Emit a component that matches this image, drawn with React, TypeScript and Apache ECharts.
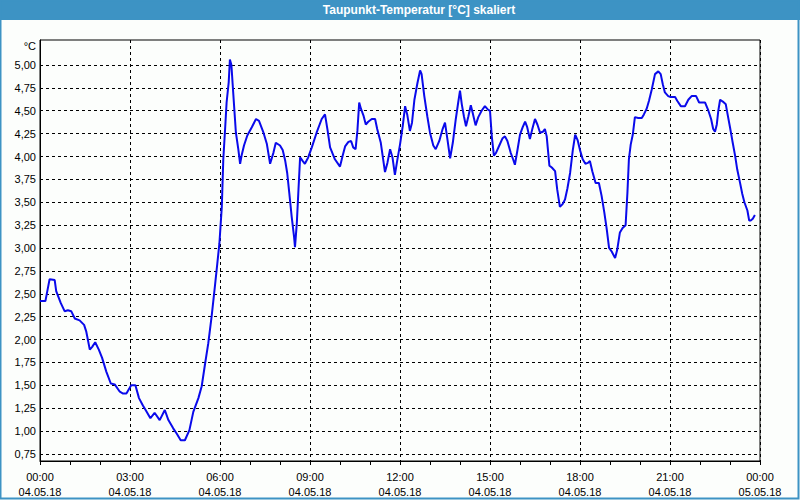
import React, { useEffect, useRef } from "react";
import * as echarts from "echarts";

const TITLE = "Taupunkt-Temperatur [°C] skaliert";
const UNIT = "°C";

// time of day in hours (04.05.18 00:00 = 0)
const hours: number[] = [
  0.0, 0.18, 0.32, 0.49, 0.54, 0.69, 0.82, 0.93, 1.04, 1.16, 1.32, 1.47, 1.54, 1.66, 1.74, 1.84, 1.96, 2.07, 2.21, 2.36,
  2.49, 2.66, 2.77, 2.88, 3.04, 3.18, 3.3, 3.43, 3.54, 3.68, 3.82, 3.99, 4.16, 4.28, 4.44, 4.56, 4.69, 4.83, 4.98, 5.11,
  5.28, 5.39, 5.5, 5.61, 5.72, 5.83, 5.91, 5.98, 6.06, 6.11, 6.17, 6.22, 6.29, 6.33, 6.38, 6.44, 6.53, 6.61, 6.67, 6.72,
  6.8, 6.91, 7.06, 7.2, 7.3, 7.44, 7.56, 7.67, 7.78, 7.86, 8.0, 8.09, 8.17, 8.24, 8.31, 8.39, 8.47, 8.5, 8.56, 8.61,
  8.67, 8.76, 8.83, 8.94, 9.06, 9.22, 9.39, 9.5, 9.58, 9.67, 9.83, 10.0, 10.09, 10.17, 10.28, 10.37, 10.44, 10.52, 10.58, 10.64,
  10.7, 10.78, 10.86, 10.94, 11.06, 11.17, 11.24, 11.36, 11.5, 11.58, 11.67, 11.75, 11.83, 11.91, 12.0, 12.09, 12.17, 12.24, 12.33, 12.4,
  12.48, 12.58, 12.67, 12.72, 12.81, 12.91, 13.0, 13.11, 13.19, 13.31, 13.42, 13.5, 13.58, 13.67, 13.76, 13.86, 13.94, 14.0, 14.06, 14.13,
  14.2, 14.28, 14.36, 14.42, 14.52, 14.61, 14.72, 14.83, 14.94, 15.0, 15.06, 15.13, 15.2, 15.31, 15.42, 15.5, 15.58, 15.69, 15.77, 15.83,
  15.91, 16.0, 16.09, 16.17, 16.24, 16.33, 16.41, 16.5, 16.58, 16.67, 16.76, 16.83, 16.89, 16.98, 17.06, 17.17, 17.24, 17.33, 17.42, 17.5,
  17.58, 17.67, 17.76, 17.84, 17.92, 18.0, 18.09, 18.18, 18.26, 18.33, 18.41, 18.52, 18.63, 18.72, 18.81, 18.89, 18.97, 19.06, 19.17, 19.24,
  19.33, 19.42, 19.52, 19.58, 19.63, 19.69, 19.76, 19.83, 19.94, 20.06, 20.13, 20.22, 20.3, 20.39, 20.5, 20.61, 20.69, 20.76, 20.83, 20.94,
  21.02, 21.17, 21.24, 21.36, 21.5, 21.61, 21.72, 21.87, 21.97, 22.06, 22.17, 22.28, 22.37, 22.44, 22.5, 22.56, 22.61, 22.67, 22.76, 22.86,
  22.92, 23.0, 23.08, 23.17, 23.24, 23.33, 23.41, 23.48, 23.58, 23.64, 23.69, 23.76, 23.83,
];

// dew point temperature in °C
const dewPoint: number[] = [
  2.42, 2.42, 2.66, 2.65, 2.53, 2.4, 2.31, 2.32, 2.31, 2.23, 2.21, 2.16, 2.09, 1.89, 1.92, 1.97, 1.89, 1.8, 1.65, 1.52,
  1.51, 1.43, 1.41, 1.41, 1.5, 1.5, 1.36, 1.28, 1.22, 1.14, 1.2, 1.12, 1.23, 1.12, 1.03, 0.97, 0.9, 0.9, 1.01, 1.21,
  1.36, 1.49, 1.73, 1.96, 2.25, 2.58, 2.83, 3.05, 3.45, 3.97, 4.3, 4.59, 4.81, 5.06, 5.0, 4.7, 4.26, 4.08, 3.92, 4.01,
  4.12, 4.23, 4.32, 4.41, 4.39, 4.27, 4.14, 3.92, 4.04, 4.15, 4.12, 4.07, 3.96, 3.82, 3.6, 3.34, 3.12, 3.01, 3.27, 3.6,
  3.99, 3.95, 3.92, 3.99, 4.1, 4.26, 4.41, 4.46, 4.3, 4.1, 3.97, 3.89, 4.01, 4.11, 4.16, 4.17, 4.1, 4.08, 4.28, 4.59,
  4.52, 4.45, 4.35, 4.38, 4.41, 4.41, 4.3, 4.15, 3.83, 3.93, 4.08, 3.99, 3.8, 3.96, 4.13, 4.33, 4.55, 4.46, 4.28, 4.37,
  4.62, 4.8, 4.94, 4.9, 4.66, 4.44, 4.26, 4.12, 4.08, 4.17, 4.3, 4.37, 4.19, 3.98, 4.15, 4.41, 4.59, 4.72, 4.57, 4.44,
  4.33, 4.44, 4.56, 4.48, 4.34, 4.43, 4.5, 4.55, 4.51, 4.5, 4.22, 4.01, 4.04, 4.12, 4.2, 4.22, 4.17, 4.04, 3.97, 3.91,
  4.06, 4.24, 4.32, 4.38, 4.32, 4.19, 4.3, 4.41, 4.35, 4.26, 4.27, 4.3, 4.22, 3.9, 3.88, 3.84, 3.64, 3.45, 3.48, 3.53,
  3.65, 3.82, 4.07, 4.24, 4.18, 4.07, 3.97, 3.92, 3.93, 3.95, 3.84, 3.71, 3.71, 3.57, 3.39, 3.21, 3.0, 2.96, 2.89, 2.98,
  3.17, 3.22, 3.25, 3.6, 3.97, 4.13, 4.24, 4.43, 4.42, 4.42, 4.46, 4.52, 4.61, 4.73, 4.9, 4.93, 4.9, 4.79, 4.7, 4.66,
  4.65, 4.65, 4.61, 4.55, 4.55, 4.62, 4.66, 4.66, 4.59, 4.59, 4.59, 4.5, 4.41, 4.3, 4.27, 4.35, 4.5, 4.62, 4.6, 4.57,
  4.46, 4.32, 4.17, 4.01, 3.86, 3.72, 3.59, 3.5, 3.41, 3.3, 3.3, 3.32, 3.36,
];

const yTicks: number[] = [0.75, 1.0, 1.25, 1.5, 1.75, 2.0, 2.25, 2.5, 2.75, 3.0, 3.25, 3.5, 3.75, 4.0, 4.25, 4.5, 4.75, 5.0];
const xLabelHours: number[] = [0, 3, 6, 9, 12, 15, 18, 21, 24];
const dayLabels: string[] = ["04.05.18", "05.05.18"];

const FONT = "Liberation Sans";
const BLUE_FRAME = "#3d93c4";

export default function App() {
  const ref = useRef<HTMLDivElement>(null);
  useEffect(() => {
    if (!ref.current) return;
    const chart = echarts.init(ref.current, undefined, { renderer: "svg" });
    const pad = (n: number) => (n < 10 ? "0" + n : "" + n);
    const option: any = {
      animation: false,
      backgroundColor: "#fcfefc",
      textStyle: { fontFamily: FONT },
      grid: { left: 40, top: 40, width: 720, height: 421, show: true, borderColor: "#000", borderWidth: 1, backgroundColor: "transparent" },
      xAxis: [
        {
          type: "value",
          min: 0,
          max: 24,
          interval: 3,
          position: "bottom",
          axisLine: { show: true, lineStyle: { color: "#000", width: 1 } },
          axisTick: { show: false },
          axisLabel: {
            color: "#000",
            fontSize: 11,
            fontFamily: FONT,
            margin: 8,
            lineHeight: 15,
            customValues: xLabelHours,
            formatter: (v: number) => {
              const h = Math.round(v);
              return pad(h % 24) + ":00\n" + (h >= 24 ? dayLabels[1] : dayLabels[0]);
            },
          },
          splitLine: { show: true, lineStyle: { color: "#000", type: [3, 3], width: 1 } },
        },
        {
          type: "value",
          min: 0,
          max: 24,
          interval: 1,
          position: "bottom",
          offset: 0,
          axisLine: { show: false },
          axisTick: { show: true, length: 4, lineStyle: { color: "#000" } },
          axisLabel: { show: false },
          splitLine: { show: false },
        },
      ],
      yAxis: {
        type: "value",
        min: 0.673,
        max: 5.273,
        axisLine: { show: true, lineStyle: { color: "#000" } },
        axisTick: { show: false, customValues: yTicks },
        axisLabel: {
          color: "#000",
          fontSize: 11,
          fontFamily: FONT,
          margin: 4,
          customValues: yTicks,
          formatter: (v: number) => v.toFixed(2).replace(".", ","),
        },
        splitLine: { show: true, lineStyle: { color: "#000", type: [3, 3], width: 1 } },
      },
      series: [
        {
          type: "line",
          xAxisIndex: 0,
          data: hours.map((h, i) => [h, dewPoint[i]]),
          showSymbol: false,
          symbol: "none",
          lineStyle: { color: "#0a0aeb", width: 2 },
          z: 5,
        },
      ],
      graphic: [
        { type: "rect", shape: { x: 0, y: 0, width: 800, height: 20 }, style: { fill: BLUE_FRAME }, z: 10 },
        { type: "rect", shape: { x: 0.5, y: 0.5, width: 798, height: 498 }, style: { fill: "none", stroke: BLUE_FRAME, lineWidth: 2 }, z: 10 },
        {
          type: "text",
          x: 419,
          y: 10,
          style: { text: TITLE, fill: "#fff", font: `bold 12px "${FONT}"`, textAlign: "center", textVerticalAlign: "middle" },
          z: 11,
        },
        {
          type: "text",
          x: 36,
          y: 46,
          style: { text: UNIT, fill: "#000", font: `11px "${FONT}"`, textAlign: "right", textVerticalAlign: "middle" },
          z: 11,
        },
      ],
    };
    chart.setOption(option);
    return () => chart.dispose();
  }, []);
  return <div ref={ref} style={{ position: "absolute", left: 0, top: 0, width: 800, height: 500 }} />;
}
